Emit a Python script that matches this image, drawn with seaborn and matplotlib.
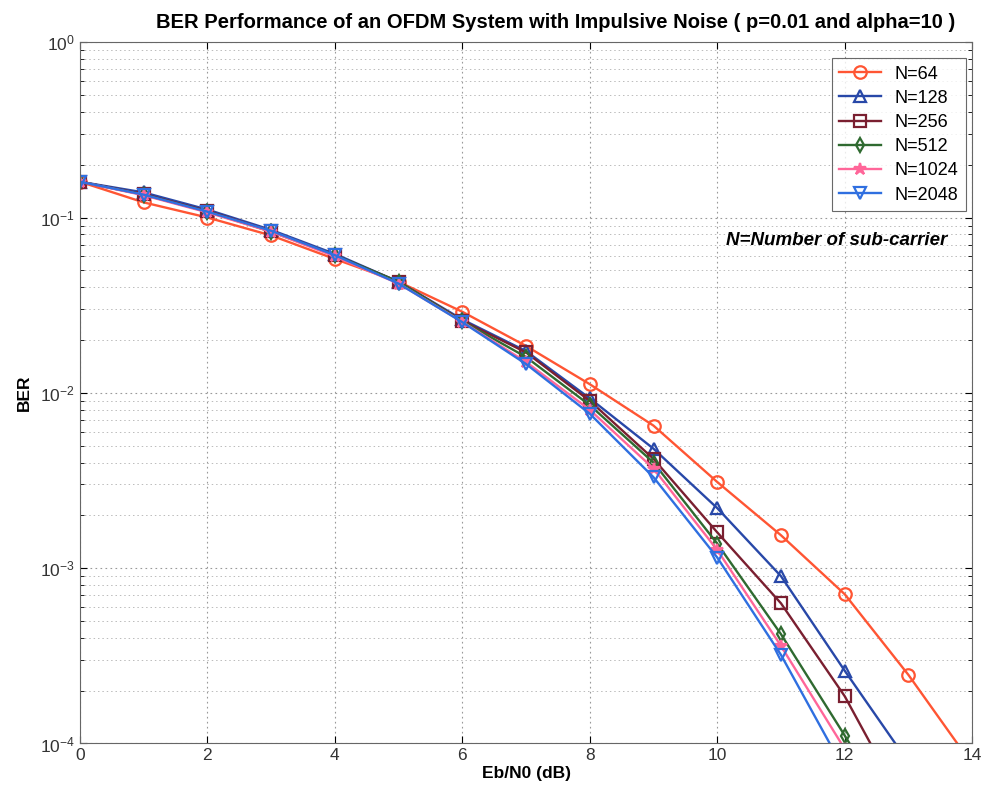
import numpy as np
import pandas as pd
import matplotlib
matplotlib.use("Agg")
import matplotlib.pyplot as plt
import seaborn as sns
from matplotlib.ticker import LogLocator, FixedLocator

# ---- data ----
ebn0 = [0, 1, 2, 3, 4, 5, 6, 7, 8, 9, 10, 11, 12, 13, 14]
labels = ["N=64", "N=128", "N=256", "N=512", "N=1024", "N=2048"]
ber_64 = [0.160, 0.122, 0.100, 0.079, 0.058, 0.043, 0.029, 0.0185, 0.0112, 0.0065, 0.0031, 0.00154, 0.00071, 0.000246, 0.000076]
ber_128 = [0.160, 0.139, 0.111, 0.085, 0.062, 0.043, 0.0262, 0.0173, 0.0093, 0.0048, 0.0022, 0.00090, 0.00026, 0.000078]
ber_256 = [0.160, 0.136, 0.109, 0.084, 0.061, 0.043, 0.0258, 0.0170, 0.0090, 0.0042, 0.0016, 0.00063, 0.000186, 0.00004]
ber_512 = [0.160, 0.135, 0.108, 0.083, 0.061, 0.043, 0.0256, 0.0160, 0.0085, 0.0040, 0.00138, 0.00042, 0.000111, 0.000028]
ber_1024 = [0.160, 0.134, 0.107, 0.083, 0.060, 0.042, 0.0254, 0.0150, 0.0080, 0.0037, 0.00127, 0.00036, 0.000093]
ber_2048 = [0.160, 0.135, 0.108, 0.084, 0.061, 0.042, 0.0253, 0.0146, 0.0076, 0.0033, 0.00115, 0.00032, 0.000070]
series = [ber_64, ber_128, ber_256, ber_512, ber_1024, ber_2048]

colors = ["#ff5533", "#2848a8", "#7a1f30", "#2f6a30", "#ff6699", "#2f6fe0"]
markers = ["o", "^", "s", "d", "*", "v"]
msizes = [9, 9, 8.5, 7.5, 9, 9]
fill = ["none", "none", "none", "none", "#ff6699", "none"]

plt.rcParams["font.family"] = ["Liberation Sans", "DejaVu Sans"]

fig = plt.figure(figsize=(9.86, 7.96), dpi=100)
ax = fig.add_axes([0.081, 0.066, 0.905, 0.881])

for lab, ys, c, m, ms, fc in zip(labels, series, colors, markers, msizes, fill):
    df = pd.DataFrame({"x": ebn0[:len(ys)], "y": ys})
    sns.lineplot(data=df, x="x", y="y", ax=ax, color=c, marker=m, markersize=ms,
                 markerfacecolor=fc, markeredgecolor=c, markeredgewidth=1.6,
                 linewidth=1.7, label=lab, clip_on=True)

ax.set_yscale("log")
ax.set_xlim(0, 14)
ax.set_ylim(1e-4, 1)
ax.set_xticks(range(0, 15, 2))
ax.yaxis.set_major_locator(LogLocator(base=10, numticks=10))
ax.yaxis.set_minor_locator(LogLocator(base=10, subs=np.arange(2, 10), numticks=20))
ax.xaxis.set_minor_locator(FixedLocator([]))

ax.grid(True, which="major", linestyle=(0, (1.5, 3)), color="#999999", linewidth=0.8)
ax.grid(True, which="minor", axis="y", linestyle=(0, (1.5, 3)), color="#bbbbbb", linewidth=0.7)
ax.tick_params(which="both", direction="in", top=True, right=True, labelsize=12.5,
               labelcolor="#333333")
ax.tick_params(which="major", length=5)
ax.tick_params(which="minor", length=3)
for s in ax.spines.values():
    s.set_color("#666666")
    s.set_linewidth(0.8)

ax.set_xlabel("Eb/N0 (dB)", fontsize=12.5, fontweight="bold", labelpad=2)
ax.set_ylabel("BER", fontsize=12.5, fontweight="bold", labelpad=6)
fig.text(556 / 986, 1 - 22 / 796,
         "BER Performance of an OFDM System with Impulsive Noise ( p=0.01 and alpha=10 )",
         ha="center", va="center", fontsize=14.5, fontweight="bold")

ax.text(0.972, 0.717, "N=Number of sub-carrier", transform=ax.transAxes,
        ha="right", va="center", fontsize=13.5, fontweight="bold", fontstyle="italic")

leg = ax.legend(loc="upper right", fontsize=13, frameon=True, fancybox=False,
                edgecolor="#444444", handlelength=2.3, borderpad=0.4, labelspacing=0.4,
                borderaxespad=0, bbox_to_anchor=(0.993, 0.977))
leg.get_frame().set_linewidth(0.8)

fig.savefig("out.png", dpi=100, facecolor="white")
